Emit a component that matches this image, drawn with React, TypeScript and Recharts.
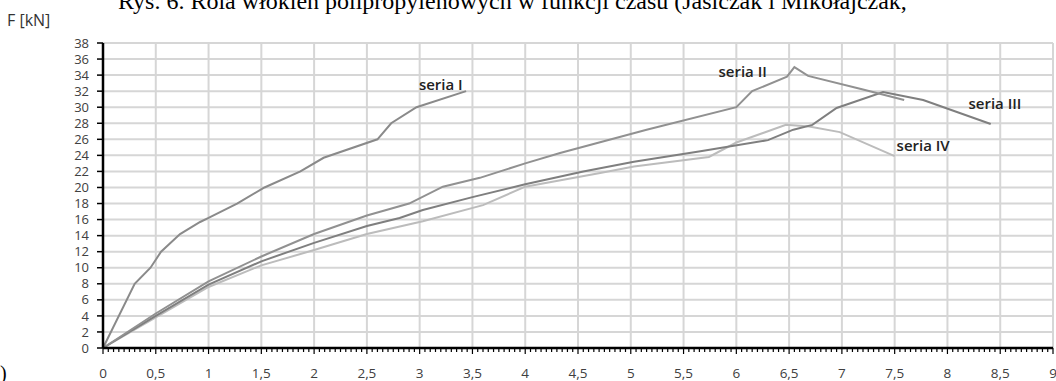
import { LineChart, Line, XAxis, YAxis, CartesianGrid, ReferenceDot } from 'recharts'

// F [kN] against time, four test series
const seriaI = [
  { x: 0, y: 0 }, { x: 0.3, y: 8 }, { x: 0.45, y: 10 }, { x: 0.55, y: 12 }, { x: 0.73, y: 14.2 },
  { x: 0.92, y: 15.7 }, { x: 1.0, y: 16.2 }, { x: 1.27, y: 18 }, { x: 1.53, y: 20 }, { x: 1.87, y: 22 },
  { x: 2.09, y: 23.7 }, { x: 2.6, y: 26 }, { x: 2.73, y: 28 }, { x: 2.97, y: 30 }, { x: 3.44, y: 32 },
]

const seriaII = [
  { x: 0, y: 0 }, { x: 0.5, y: 4.3 }, { x: 1.0, y: 8.3 }, { x: 1.5, y: 11.4 }, { x: 2.0, y: 14.2 },
  { x: 2.5, y: 16.5 }, { x: 2.9, y: 18 }, { x: 3.22, y: 20.1 }, { x: 3.57, y: 21.2 }, { x: 4.0, y: 23 },
  { x: 4.33, y: 24.3 }, { x: 5.15, y: 27.2 }, { x: 6.0, y: 30 }, { x: 6.15, y: 32 }, { x: 6.48, y: 33.8 },
  { x: 6.55, y: 35 }, { x: 6.68, y: 33.9 }, { x: 7.2, y: 32.2 }, { x: 7.59, y: 30.9 },
]

const seriaIII = [
  { x: 0, y: 0 }, { x: 0.5, y: 4.0 }, { x: 1.0, y: 7.9 }, { x: 1.5, y: 10.8 }, { x: 2.0, y: 13.1 },
  { x: 2.5, y: 15.2 }, { x: 2.81, y: 16.2 }, { x: 3.03, y: 17.2 }, { x: 3.5, y: 18.8 }, { x: 4.0, y: 20.4 },
  { x: 4.55, y: 22 }, { x: 5.03, y: 23.2 }, { x: 5.66, y: 24.5 }, { x: 6.3, y: 25.9 }, { x: 6.54, y: 27.2 },
  { x: 6.72, y: 27.8 }, { x: 6.95, y: 29.9 }, { x: 7.39, y: 31.9 }, { x: 7.77, y: 30.9 }, { x: 8.41, y: 27.9 },
]

const seriaIV = [
  { x: 0, y: 0 }, { x: 0.5, y: 3.8 }, { x: 1.0, y: 7.6 }, { x: 1.5, y: 10.3 }, { x: 2.0, y: 12.2 },
  { x: 2.5, y: 14.2 }, { x: 3.03, y: 15.8 }, { x: 3.6, y: 17.8 }, { x: 4.0, y: 20.1 }, { x: 4.71, y: 21.8 },
  { x: 5.03, y: 22.6 }, { x: 5.74, y: 23.8 }, { x: 6.0, y: 25.6 }, { x: 6.47, y: 27.8 }, { x: 6.69, y: 27.6 },
  { x: 6.98, y: 26.9 }, { x: 7.5, y: 23.9 },
]

const seriesLabels = [
  { name: 'seria I', x: 3.2, y: 32.8 },
  { name: 'seria II', x: 6.06, y: 34.4 },
  { name: 'seria III', x: 8.45, y: 30.4 },
  { name: 'seria IV', x: 7.77, y: 25.2 },
]

const xMax = 9
const xMajorTicks = [0, 0.5, 1, 1.5, 2, 2.5, 3, 3.5, 4, 4.5, 5, 5.5, 6, 6.5, 7, 7.5, 8, 8.5, 9]
const xMinorTicks = Array.from({ length: 181 }, (_, i) => i / 20)
const yTicks = [0, 2, 4, 6, 8, 10, 12, 14, 16, 18, 20, 22, 24, 26, 28, 30, 32, 34, 36, 38]

const font = '"Open Sans", sans-serif'
const fmt = (v: number) => String(v).replace('.', ',')

function XTick({ x, y, payload }: any) {
  const v = payload.value
  const major = Math.round(v * 100) % 50 === 0
  return (
    <g>
      <line x1={x} x2={x} y1={y} y2={y + (major ? 6 : 4)} stroke="#000" strokeWidth={1.2} />
      {major && (
        <text x={x} y={y + 30} textAnchor="middle" fontSize={13.5} fontFamily={font} fill="#404040">
          {fmt(v)}
        </text>
      )}
    </g>
  )
}

export default function App() {
  return (
    <div style={{ position: 'absolute', left: 0, top: 0, width: 1056, height: 381, overflow: 'hidden', background: '#fff' }}>
      <LineChart width={1070} height={381} margin={{ top: 43, right: 17, left: 0, bottom: 0 }}>
        <CartesianGrid
          stroke="#d6d6d6"
          strokeWidth={2}
          verticalCoordinatesGenerator={({ offset }: any) =>
            xMajorTicks.map((t) => offset.left + (t / xMax) * offset.width)
          }
        />
        <XAxis
          type="number"
          dataKey="x"
          domain={[0, xMax]}
          ticks={xMinorTicks}
          interval={0}
          tick={<XTick />}
          tickSize={0}
          tickMargin={0}
          tickLine={false}
          height={33}
          axisLine={{ stroke: '#000', strokeWidth: 2.5 }}
        />
        <YAxis
          type="number"
          domain={[0, 38]}
          ticks={yTicks}
          interval={0}
          width={103}
          tickSize={6}
          tickMargin={8}
          tick={{ fontSize: 13, fontFamily: font, fill: '#404040' }}
          tickLine={{ stroke: '#000', strokeWidth: 1.5 }}
          axisLine={{ stroke: '#000', strokeWidth: 2.5 }}
        />
        <Line data={seriaIV} dataKey="y" stroke="#bcbcbc" strokeWidth={2} dot={false} activeDot={false} isAnimationActive={false} />
        <Line data={seriaIII} dataKey="y" stroke="#7f7f7f" strokeWidth={2} dot={false} activeDot={false} isAnimationActive={false} />
        <Line data={seriaII} dataKey="y" stroke="#919191" strokeWidth={2} dot={false} activeDot={false} isAnimationActive={false} />
        <Line data={seriaI} dataKey="y" stroke="#8a8a8a" strokeWidth={2} dot={false} activeDot={false} isAnimationActive={false} />
        {seriesLabels.map((s) => (
          <ReferenceDot
            key={s.name}
            x={s.x}
            y={s.y}
            r={0}
            fill="none"
            stroke="none"
            label={{ value: s.name, position: 'center', fontSize: 15, fontWeight: 600, fontFamily: font, fill: '#222' }}
          />
        ))}
      </LineChart>
      <svg width={1056} height={381} style={{ position: 'absolute', left: 0, top: 0, pointerEvents: 'none' }}>
        <text x={118} y={8.5} fontSize={24} fontFamily='"Liberation Serif", "Times New Roman", serif' fill="#000">
          Rys. 6. Rola włókien polipropylenowych w funkcji czasu (Jasiczak i Mikołajczak,
        </text>
        <text x={7} y={26} fontSize={16} fontFamily={font} fill="#333">
          F [kN]
        </text>
        <text x={0} y={380} fontSize={20} fontFamily='"Liberation Serif", serif' fill="#000">
          )
        </text>
      </svg>
    </div>
  )
}
